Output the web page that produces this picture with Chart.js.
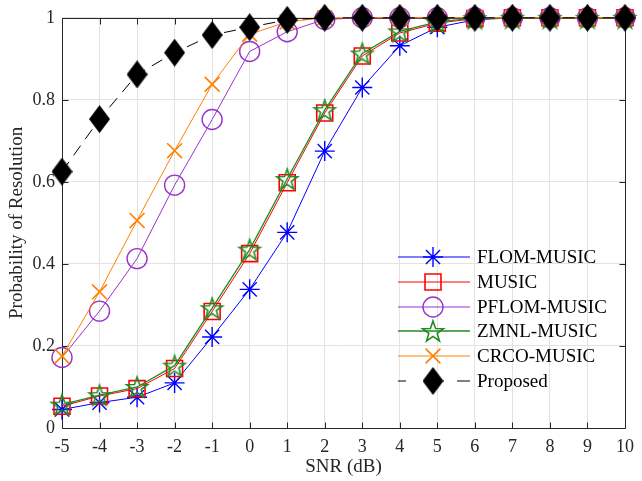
<!DOCTYPE html>
<html>
<head>
<meta charset="utf-8">
<script src="https://cdn.jsdelivr.net/npm/chart.js@4/dist/chart.umd.min.js"></script>
<style>
html,body{margin:0;padding:0;background:#fff;}
#wrap{width:642px;height:481px;position:relative;}
</style>
</head>
<body>
<div id="wrap"><canvas id="c" width="642" height="481"></canvas></div>
<script>
// ---- data ----
const snr        = [-5, -4, -3, -2, -1, 0, 1, 2, 3, 4, 5, 6, 7, 8, 9, 10];
const flomMusic  = [0.045, 0.062, 0.075, 0.110, 0.222, 0.338, 0.477, 0.675, 0.830, 0.932, 0.977, 0.995, 1, 1, 1, 1];
const music      = [0.053, 0.078, 0.096, 0.145, 0.284, 0.425, 0.598, 0.768, 0.907, 0.963, 0.987, 0.998, 1, 1, 1, 1];
const pflomMusic = [0.172, 0.285, 0.413, 0.592, 0.752, 0.918, 0.966, 0.996, 1, 1, 1, 1, 1, 1, 1, 1];
const zmnlMusic  = [0.057, 0.080, 0.100, 0.152, 0.292, 0.435, 0.607, 0.775, 0.913, 0.967, 0.990, 0.999, 1, 1, 1, 1];
const crcoMusic  = [0.175, 0.332, 0.506, 0.676, 0.838, 0.960, 0.990, 1, 1, 1, 1, 1, 1, 1, 1, 1];
const proposed   = [0.625, 0.753, 0.862, 0.915, 0.958, 0.977, 0.995, 1, 1, 1, 1, 1, 1, 1, 1, 1];
const seriesNames = ['FLOM-MUSIC', 'MUSIC', 'PFLOM-MUSIC', 'ZMNL-MUSIC', 'CRCO-MUSIC', 'Proposed'];
const xTickValues = [-5, -4, -3, -2, -1, 0, 1, 2, 3, 4, 5, 6, 7, 8, 9, 10];
const xTickLabels = ['-5', '-4', '-3', '-2', '-1', '0', '1', '2', '3', '4', '5', '6', '7', '8', '9', '10'];
const yTickValues = [0, 0.2, 0.4, 0.6, 0.8, 1];
const yTickLabels = ['0', '0.2', '0.4', '0.6', '0.8', '1'];
const xTitle = 'SNR (dB)';
const yTitle = 'Probability of Resolution';

// ---- styling ----
const FONT = '"Liberation Serif", "Times New Roman", serif';
const AXIS_COLOR = '#262626';
const GRID_COLOR = '#e3e3e3';
const AREA = {left: 62, top: 15, right: 633, bottom: 428};

function diamondImg(w, h) {
  const c = document.createElement('canvas');
  c.width = w; c.height = h;
  const g = c.getContext('2d');
  g.fillStyle = '#000';
  g.beginPath();
  g.moveTo(w / 2, 0); g.lineTo(w, h / 2); g.lineTo(w / 2, h); g.lineTo(0, h / 2);
  g.closePath(); g.fill();
  return c;
}
function pentagramImg(R, color, lw) {
  const s = Math.ceil(2 * R + lw * 2 + 2);
  const c = document.createElement('canvas');
  c.width = s; c.height = s;
  const g = c.getContext('2d');
  const cx = s / 2, cy = s / 2 + R * 0.095;
  g.strokeStyle = color; g.lineWidth = lw; g.lineJoin = 'miter';
  g.beginPath();
  for (let i = 0; i < 10; i++) {
    const r = (i % 2) ? R * 0.40 : R;
    const a = -Math.PI / 2 + i * Math.PI / 5;
    const px = cx + r * Math.cos(a), py = cy + r * Math.sin(a);
    if (i === 0) g.moveTo(px, py); else g.lineTo(px, py);
  }
  g.closePath(); g.stroke();
  return c;
}

const styles = [
  {color: '#0000ff', pointStyle: 'star', radius: 10, pbw: 1.4, bw: 1},
  {color: '#ff0000', pointStyle: 'rect', radius: 11.3, pbw: 1.6, bw: 1},
  {color: '#9933cc', pointStyle: 'circle', radius: 10, pbw: 1.4, bw: 1},
  {color: '#228b22', pointStyle: pentagramImg(11, '#228b22', 1.6), radius: 10, pbw: 1.6, bw: 1.3},
  {color: '#ff8000', pointStyle: 'crossRot', radius: 10.5, pbw: 1.6, bw: 1},
  {color: '#000000', pointStyle: diamondImg(21, 28), radius: 12, pbw: 1, bw: 1, dash: [12, 8]}
];
const seriesValues = [flomMusic, music, pflomMusic, zmnlMusic, crcoMusic, proposed];

const datasets = seriesValues.map((vals, i) => {
  const st = styles[i];
  return {
    label: seriesNames[i],
    data: snr.map((x, k) => ({x: x, y: vals[k]})),
    borderColor: st.color,
    backgroundColor: 'rgba(0,0,0,0)',
    borderWidth: st.bw,
    borderDash: st.dash || [],
    pointStyle: st.pointStyle,
    pointRadius: st.radius,
    pointBorderWidth: st.pbw,
    pointBorderColor: st.color,
    pointBackgroundColor: 'rgba(0,0,0,0)',
    tension: 0,
    clip: false,
    order: seriesValues.length - i
  };
});

const framePlugin = {
  id: 'frame',
  beforeDatasetsDraw(chart) {
    const {ctx, chartArea: a, scales} = chart;
    ctx.save();
    ctx.setLineDash([]);
    ctx.strokeStyle = AXIS_COLOR;
    ctx.lineWidth = 1;
    ctx.beginPath();
    const L = Math.round(a.left) + 0.5, R = Math.round(a.right) + 0.5;
    const T = Math.round(a.top) + 0.5, B = Math.round(a.bottom) + 0.5;
    ctx.rect(L, T, R - L, B - T);
    const tl = 6;
    xTickValues.forEach(v => {
      const px = Math.round(scales.x.getPixelForValue(v)) + 0.5;
      ctx.moveTo(px, B); ctx.lineTo(px, B - tl);
      ctx.moveTo(px, T); ctx.lineTo(px, T + tl);
    });
    yTickValues.forEach(v => {
      const py = Math.round(scales.y.getPixelForValue(v)) + 0.5;
      ctx.moveTo(L, py); ctx.lineTo(L + tl, py);
      ctx.moveTo(R, py); ctx.lineTo(R - tl, py);
    });
    ctx.stroke();
    ctx.restore();
  }
};

const legendPlugin = {
  id: 'customLegend',
  afterDraw(chart) {
    const {ctx} = chart;
    const x0 = 398, x1 = 470, xm = 433, xt = 477;
    const y0 = 257, dy = 24.8;
    chart.data.datasets.forEach((ds, i) => {
      ctx.save();
      ctx.setLineDash([]);
      const y = Math.round(y0 + i * dy);
      const st = styles[i];
      ctx.strokeStyle = st.color;
      ctx.lineWidth = st.bw;
      ctx.beginPath();
      if (st.dash) {
        ctx.moveTo(x0, y); ctx.lineTo(x0 + 8, y);
        ctx.moveTo(x1 - 13, y); ctx.lineTo(x1, y);
      } else {
        ctx.moveTo(x0, y); ctx.lineTo(x1, y);
      }
      ctx.stroke();
      ctx.fillStyle = 'rgba(0,0,0,0)';
      ctx.strokeStyle = st.color;
      ctx.lineWidth = st.pbw;
      Chart.helpers.drawPoint(ctx, {pointStyle: st.pointStyle, radius: st.radius, borderWidth: st.pbw, rotation: 0}, xm, y);
      ctx.restore();
      ctx.save();
      ctx.fillStyle = '#000';
      ctx.font = '19px ' + FONT;
      ctx.textAlign = 'left';
      ctx.textBaseline = 'middle';
      ctx.fillText(ds.label, xt, y + 1);
      ctx.restore();
    });
  }
};

new Chart(document.getElementById('c'), {
  type: 'line',
  data: {datasets: datasets},
  options: {
    responsive: false,
    animation: false,
    events: [],
    layout: {padding: {left: 0, top: AREA.top, right: 642 - AREA.right, bottom: 0}},
    plugins: {legend: {display: false}, tooltip: {enabled: false}},
    scales: {
      x: {
        type: 'linear', min: -5, max: 10,
        afterBuildTicks(scale) { scale.ticks = xTickValues.map(v => ({value: v})); },
        afterFit(scale) { scale.height = 481 - AREA.bottom; },
        grid: {color: GRID_COLOR, lineWidth: 1, drawTicks: false},
        border: {display: false},
        ticks: {
          color: AXIS_COLOR, font: {family: FONT, size: 18}, padding: 8, maxRotation: 0, autoSkip: false,
          callback: (v) => { const k = xTickValues.indexOf(v); return k >= 0 ? xTickLabels[k] : ''; }
        },
        title: {display: true, text: xTitle, color: AXIS_COLOR, font: {family: FONT, size: 19}, padding: {top: 0, bottom: 3}}
      },
      y: {
        type: 'linear', min: 0, max: 1,
        afterBuildTicks(scale) { scale.ticks = yTickValues.map(v => ({value: v})); },
        afterFit(scale) { scale.width = AREA.left; },
        grid: {color: GRID_COLOR, lineWidth: 1, drawTicks: false},
        border: {display: false},
        ticks: {
          color: AXIS_COLOR, font: {family: FONT, size: 18}, padding: 7,
          callback: (v) => { const k = yTickValues.findIndex(t => Math.abs(t - v) < 1e-9); return k >= 0 ? yTickLabels[k] : ''; }
        },
        title: {display: true, text: yTitle, color: AXIS_COLOR, font: {family: FONT, size: 19}, padding: {top: 6, bottom: 0}}
      }
    }
  },
  plugins: [framePlugin, legendPlugin]
});
</script>
</body>
</html>
